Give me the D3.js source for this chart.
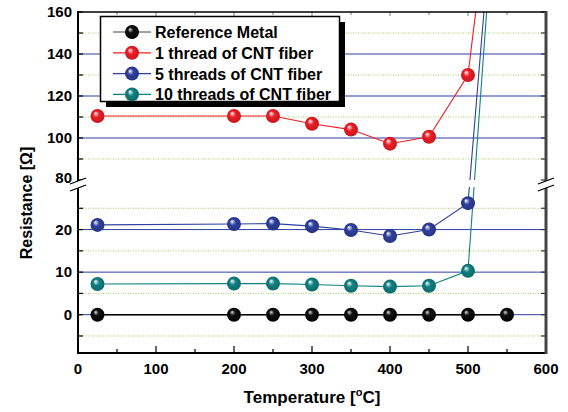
<!DOCTYPE html>
<html><head><meta charset="utf-8">
<script src="https://cdn.jsdelivr.net/npm/d3@7"></script>
<style>html,body{margin:0;padding:0;background:#fff;}svg{display:block;font-family:Arial,"Liberation Sans",sans-serif;}</style>
</head><body>
<svg id="c" width="568" height="412"></svg>
<script>
const temps = [25, 200, 250, 300, 350, 400, 450, 500, 550];
const refMetal = [0, 0, 0, 0, 0, 0, 0, 0, 0];
const thread1 = [110.5, 110.5, 110.5, 106.8, 104, 97.3, 100.6, 130, 282];
const threads5 = [21.1, 21.3, 21.4, 20.8, 19.9, 18.5, 20.0, 26.2, 292];
const threads10 = [7.2, 7.3, 7.3, 7.1, 6.8, 6.6, 6.8, 10.3, 295];
const seriesNames = ["Reference Metal", "1 thread of CNT fiber", "5 threads of CNT fiber", "10 threads of CNT fiber"];
const seriesColors = ["#000000", "#ee1c25", "#2e3f9c", "#0f8080"];
const xTicks = [0, 100, 200, 300, 400, 500, 600];
const upperTicks = [80, 100, 120, 140, 160];
const lowerTicks = [0, 10, 20];
const upperMinor = [90, 110, 130, 150];
const lowerMinor = [-5, 5, 15, 25];

const svg = d3.select("#c");
const L = 78, R = 546, T = 12, B = 353, BU = 180, TL = 187;
const x = d3.scaleLinear().domain([0, 600]).range([L, R]);
const yU = d3.scaleLinear().domain([80, 160]).range([BU, T]);
const yL = d3.scaleLinear().domain([-9, 30]).range([B, TL]);
const y = v => v >= 55 ? yU(v) : yL(v);

const defs = svg.append("defs");
defs.append("clipPath").attr("id", "cu").append("rect").attr("x", L).attr("y", T).attr("width", R - L).attr("height", BU - T);
defs.append("clipPath").attr("id", "cl").append("rect").attr("x", L).attr("y", TL).attr("width", R - L).attr("height", B - TL);
seriesColors.forEach((c, i) => {
  const g = defs.append("radialGradient").attr("id", "g" + i).attr("cx", "50%").attr("cy", "50%").attr("r", "55%").attr("fx", "35%").attr("fy", "30%");
  const base = d3.color(c);
  g.append("stop").attr("offset", "0%").attr("stop-color", i === 0 ? "#e0e0e0" : "#ffffff");
  g.append("stop").attr("offset", i === 0 ? "35%" : "40%").attr("stop-color", i === 0 ? "#111" : c);
  g.append("stop").attr("offset", "100%").attr("stop-color", i === 0 ? "#000" : base.darker(0.6).toString());
});

// gridlines
const grid = svg.append("g");
const majorY = upperTicks.filter(v => v > 80 && v < 160).map(yU).concat(lowerTicks.map(yL));
const minorY = upperMinor.map(yU).concat(lowerMinor.map(yL));
grid.selectAll(".mj").data(majorY).join("line").attr("x1", L).attr("x2", R).attr("y1", d => d).attr("y2", d => d)
  .attr("stroke", "#2a3f9e").attr("stroke-width", 1);
grid.selectAll(".mn").data(minorY).join("line").attr("x1", L).attr("x2", R).attr("y1", d => d).attr("y2", d => d)
  .attr("stroke", "#9fd060").attr("stroke-width", 1).attr("stroke-dasharray", "1,1.5");

// series
const allSeries = [refMetal, thread1, threads5, threads10];
const line = d3.line().x(d => x(d[0])).y(d => y(d[1]));
const drawOrder = [1, 2, 3, 0];
drawOrder.forEach(i => {
  const vals = allSeries[i];
  const pts = temps.map((t, k) => [t, vals[k]]);
  ["cu", "cl"].forEach(cp => {
    svg.append("path").attr("d", line(pts)).attr("fill", "none").attr("stroke", seriesColors[i])
      .attr("stroke-width", i === 0 ? 1.6 : 1.1).attr("clip-path", `url(#${cp})`);
  });
});
drawOrder.forEach(i => {
  const vals = allSeries[i];
  const pts = temps.map((t, k) => [t, vals[k]]).filter(d => d[1] <= 160);
  svg.append("g").selectAll("circle").data(pts).join("circle")
    .attr("cx", d => x(d[0])).attr("cy", d => y(d[1])).attr("r", 7)
    .attr("fill", `url(#g${i})`);
});

// axes frame
const ax = svg.append("g");
ax.selectAll(".bt").data(d3.range(0, 601, 50)).join("line")
  .attr("x1", d => x(d)).attr("x2", d => x(d)).attr("y1", B).attr("y2", d => B - (d % 100 === 0 ? 7 : 4))
  .attr("stroke", "#000").attr("stroke-width", 1.2);
ax.selectAll(".tt").data(d3.range(50, 600, 50)).join("line")
  .attr("x1", d => x(d)).attr("x2", d => x(d)).attr("y1", T).attr("y2", d => T + (d % 100 === 0 ? 4 : 3))
  .attr("stroke", "#555").attr("stroke-width", 0.8);
const yTickPos = majorY.concat(minorY).concat([yU(160), yU(80)]);
ax.selectAll(".lt").data(yTickPos).join("line")
  .attr("x1", L).attr("x2", L + 5).attr("y1", d => d).attr("y2", d => d).attr("stroke", "#000").attr("stroke-width", 1.2);
ax.selectAll(".rt").data(yTickPos).join("line")
  .attr("x1", R - 5).attr("x2", R).attr("y1", d => d).attr("y2", d => d).attr("stroke", "#333").attr("stroke-width", 1.2);
ax.append("line").attr("x1", L).attr("x2", R).attr("y1", T).attr("y2", T).attr("stroke", "#000").attr("stroke-width", 1.5);
ax.append("line").attr("x1", L).attr("x2", R + 1).attr("y1", B).attr("y2", B).attr("stroke", "#000").attr("stroke-width", 2);
ax.append("line").attr("x1", L).attr("x2", L).attr("y1", T - 1).attr("y2", B + 1).attr("stroke", "#000").attr("stroke-width", 2);
ax.append("line").attr("x1", R).attr("x2", R).attr("y1", T - 1).attr("y2", B + 1).attr("stroke", "#444").attr("stroke-width", 3);
[L, R].forEach(bx => {
  ax.append("polygon").attr("points", `${bx - 8},${BU + 4} ${bx + 8},${BU - 2} ${bx + 8},${TL - 2} ${bx - 8},${TL + 4}`).attr("fill", "#fff");
  [BU + 1, TL + 1].forEach(by => {
    ax.append("line").attr("x1", bx - 8).attr("x2", bx + 8).attr("y1", by + 3).attr("y2", by - 3).attr("stroke", "#000").attr("stroke-width", 1.3);
  });
});

// tick labels
const tl = svg.append("g").attr("font-weight", "bold").attr("font-size", 15).attr("fill", "#000");
tl.selectAll(".xl").data(xTicks).join("text").attr("x", d => x(d)).attr("y", 374).attr("text-anchor", "middle").text(d => d);
tl.selectAll(".yu").data(upperTicks).join("text").attr("x", 72).attr("y", d => yU(d) + (d === 80 ? 3 : 5)).attr("text-anchor", "end").text(d => d);
tl.selectAll(".yl").data(lowerTicks).join("text").attr("x", 72).attr("y", d => yL(d) + 5).attr("text-anchor", "end").text(d => d);

// axis titles
const xt = svg.append("text").attr("x", 312).attr("y", 403).attr("text-anchor", "middle").attr("font-weight", "bold").attr("font-size", 17);
xt.append("tspan").text("Temperature [");
xt.append("tspan").attr("font-size", 11).attr("dy", -7).text("o");
xt.append("tspan").attr("dy", 7).text("C]");
svg.append("text").attr("transform", "translate(32,203) rotate(-90)").attr("text-anchor", "middle")
  .attr("font-weight", "bold").attr("font-size", 16).text("Resistance [Ω]");

// legend
const lg = svg.append("g");
lg.append("rect").attr("x", 106).attr("y", 22).attr("width", 239).attr("height", 85).attr("fill", "#000");
lg.append("rect").attr("x", 100.5).attr("y", 16.5).attr("width", 239).attr("height", 85).attr("fill", "#fff").attr("stroke", "#000").attr("stroke-width", 1.5);
seriesNames.forEach((n, i) => {
  const ly = 32 + i * 20.8;
  lg.append("line").attr("x1", 113).attr("x2", 151).attr("y1", ly).attr("y2", ly).attr("stroke", i === 0 ? "#444" : seriesColors[i]).attr("stroke-width", 1.2);
  lg.append("circle").attr("cx", 132).attr("cy", ly).attr("r", 7).attr("fill", `url(#g${i})`);
  lg.append("text").attr("x", 155).attr("y", ly + 6).attr("font-weight", "bold").attr("font-size", 16).text(n);
});
</script>
</body></html>
